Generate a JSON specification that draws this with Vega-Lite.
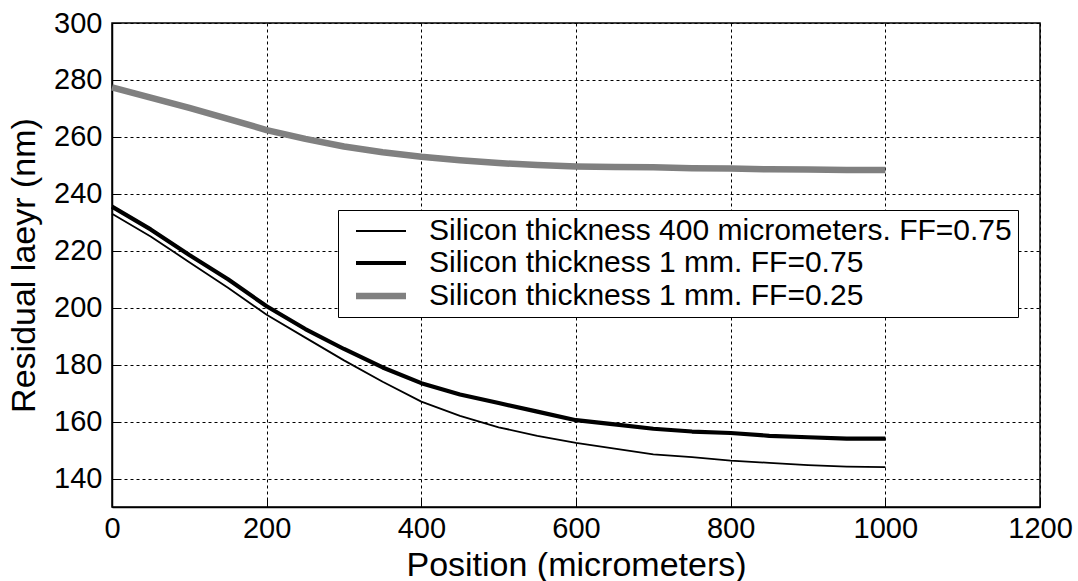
{
  "$schema": "https://vega.github.io/schema/vega-lite/v6.json",
  "width": 928,
  "height": 484,
  "autosize": "none",
  "padding": {"left": 112, "top": 23, "right": 38, "bottom": 74},
  "background": "white",
  "config": {
    "font": "Liberation Sans",
    "view": {"stroke": "black", "strokeWidth": 1.5},
    "axis": {
      "labelFont": "Liberation Sans",
      "titleFont": "Liberation Sans",
      "labelFontSize": 29,
      "titleFontSize": 34,
      "titleFontWeight": "normal",
      "labelColor": "black",
      "titleColor": "black",
      "domainColor": "black",
      "domainWidth": 1.5,
      "tickColor": "black",
      "tickSize": -8,
      "gridColor": "black",
      "gridOpacity": 1,
      "gridWidth": 1,
      "gridDash": [3, 3],
      "format": "d",
      "labelFlush": false
    }
  },
  "data": {
    "values": [
      {"x": 0, "y": 233, "s": "Silicon thickness 400 micrometers. FF=0.75"},
      {"x": 50, "y": 225, "s": "Silicon thickness 400 micrometers. FF=0.75"},
      {"x": 100, "y": 216, "s": "Silicon thickness 400 micrometers. FF=0.75"},
      {"x": 150, "y": 207, "s": "Silicon thickness 400 micrometers. FF=0.75"},
      {"x": 200, "y": 197.5, "s": "Silicon thickness 400 micrometers. FF=0.75"},
      {"x": 250, "y": 189.5, "s": "Silicon thickness 400 micrometers. FF=0.75"},
      {"x": 300, "y": 181.5, "s": "Silicon thickness 400 micrometers. FF=0.75"},
      {"x": 350, "y": 174, "s": "Silicon thickness 400 micrometers. FF=0.75"},
      {"x": 400, "y": 167, "s": "Silicon thickness 400 micrometers. FF=0.75"},
      {"x": 450, "y": 162, "s": "Silicon thickness 400 micrometers. FF=0.75"},
      {"x": 500, "y": 158, "s": "Silicon thickness 400 micrometers. FF=0.75"},
      {"x": 550, "y": 155, "s": "Silicon thickness 400 micrometers. FF=0.75"},
      {"x": 600, "y": 152.5, "s": "Silicon thickness 400 micrometers. FF=0.75"},
      {"x": 650, "y": 150.5, "s": "Silicon thickness 400 micrometers. FF=0.75"},
      {"x": 700, "y": 148.5, "s": "Silicon thickness 400 micrometers. FF=0.75"},
      {"x": 750, "y": 147.5, "s": "Silicon thickness 400 micrometers. FF=0.75"},
      {"x": 800, "y": 146.3, "s": "Silicon thickness 400 micrometers. FF=0.75"},
      {"x": 850, "y": 145.5, "s": "Silicon thickness 400 micrometers. FF=0.75"},
      {"x": 900, "y": 144.7, "s": "Silicon thickness 400 micrometers. FF=0.75"},
      {"x": 950, "y": 144.2, "s": "Silicon thickness 400 micrometers. FF=0.75"},
      {"x": 1000, "y": 144, "s": "Silicon thickness 400 micrometers. FF=0.75"},
      {"x": 0, "y": 235.5, "s": "Silicon thickness 1 mm. FF=0.75"},
      {"x": 50, "y": 227.5, "s": "Silicon thickness 1 mm. FF=0.75"},
      {"x": 100, "y": 218.5, "s": "Silicon thickness 1 mm. FF=0.75"},
      {"x": 150, "y": 210, "s": "Silicon thickness 1 mm. FF=0.75"},
      {"x": 200, "y": 200.5, "s": "Silicon thickness 1 mm. FF=0.75"},
      {"x": 250, "y": 192.5, "s": "Silicon thickness 1 mm. FF=0.75"},
      {"x": 300, "y": 185.5, "s": "Silicon thickness 1 mm. FF=0.75"},
      {"x": 350, "y": 179, "s": "Silicon thickness 1 mm. FF=0.75"},
      {"x": 400, "y": 173.5, "s": "Silicon thickness 1 mm. FF=0.75"},
      {"x": 450, "y": 169.5, "s": "Silicon thickness 1 mm. FF=0.75"},
      {"x": 500, "y": 166.5, "s": "Silicon thickness 1 mm. FF=0.75"},
      {"x": 550, "y": 163.5, "s": "Silicon thickness 1 mm. FF=0.75"},
      {"x": 600, "y": 160.5, "s": "Silicon thickness 1 mm. FF=0.75"},
      {"x": 650, "y": 159, "s": "Silicon thickness 1 mm. FF=0.75"},
      {"x": 700, "y": 157.5, "s": "Silicon thickness 1 mm. FF=0.75"},
      {"x": 750, "y": 156.5, "s": "Silicon thickness 1 mm. FF=0.75"},
      {"x": 800, "y": 156, "s": "Silicon thickness 1 mm. FF=0.75"},
      {"x": 850, "y": 155, "s": "Silicon thickness 1 mm. FF=0.75"},
      {"x": 900, "y": 154.5, "s": "Silicon thickness 1 mm. FF=0.75"},
      {"x": 950, "y": 154, "s": "Silicon thickness 1 mm. FF=0.75"},
      {"x": 1000, "y": 154, "s": "Silicon thickness 1 mm. FF=0.75"},
      {"x": 0, "y": 277.4, "s": "Silicon thickness 1 mm. FF=0.25"},
      {"x": 50, "y": 273.8, "s": "Silicon thickness 1 mm. FF=0.25"},
      {"x": 100, "y": 270.2, "s": "Silicon thickness 1 mm. FF=0.25"},
      {"x": 150, "y": 266.3, "s": "Silicon thickness 1 mm. FF=0.25"},
      {"x": 200, "y": 262.4, "s": "Silicon thickness 1 mm. FF=0.25"},
      {"x": 250, "y": 259.3, "s": "Silicon thickness 1 mm. FF=0.25"},
      {"x": 300, "y": 256.6, "s": "Silicon thickness 1 mm. FF=0.25"},
      {"x": 350, "y": 254.6, "s": "Silicon thickness 1 mm. FF=0.25"},
      {"x": 400, "y": 253.0, "s": "Silicon thickness 1 mm. FF=0.25"},
      {"x": 450, "y": 251.8, "s": "Silicon thickness 1 mm. FF=0.25"},
      {"x": 500, "y": 250.8, "s": "Silicon thickness 1 mm. FF=0.25"},
      {"x": 550, "y": 250.1, "s": "Silicon thickness 1 mm. FF=0.25"},
      {"x": 600, "y": 249.6, "s": "Silicon thickness 1 mm. FF=0.25"},
      {"x": 650, "y": 249.4, "s": "Silicon thickness 1 mm. FF=0.25"},
      {"x": 700, "y": 249.3, "s": "Silicon thickness 1 mm. FF=0.25"},
      {"x": 750, "y": 249.0, "s": "Silicon thickness 1 mm. FF=0.25"},
      {"x": 800, "y": 248.9, "s": "Silicon thickness 1 mm. FF=0.25"},
      {"x": 850, "y": 248.6, "s": "Silicon thickness 1 mm. FF=0.25"},
      {"x": 900, "y": 248.5, "s": "Silicon thickness 1 mm. FF=0.25"},
      {"x": 950, "y": 248.4, "s": "Silicon thickness 1 mm. FF=0.25"},
      {"x": 1000, "y": 248.4, "s": "Silicon thickness 1 mm. FF=0.25"}
    ]
  },
  "mark": {"type": "line", "strokeCap": "butt", "strokeJoin": "round"},
  "encoding": {
    "x": {
      "field": "x",
      "type": "quantitative",
      "scale": {"domain": [0, 1200], "nice": false},
      "axis": {"values": [0, 200, 400, 600, 800, 1000, 1200], "title": "Position (micrometers)", "labelPadding": 15, "titlePadding": 5}
    },
    "y": {
      "field": "y",
      "type": "quantitative",
      "scale": {"domain": [130, 300], "nice": false, "zero": false},
      "axis": {"values": [140, 160, 180, 200, 220, 240, 260, 280, 300], "title": "Residual laeyr (nm)", "labelPadding": 18, "titlePadding": 12}
    },
    "color": {
      "field": "s",
      "type": "ordinal",
      "scale": {
        "domain": ["Silicon thickness 400 micrometers. FF=0.75", "Silicon thickness 1 mm. FF=0.75", "Silicon thickness 1 mm. FF=0.25"],
        "range": ["#000000", "#000000", "#808080"]
      },
      "legend": {
        "title": null,
        "orient": "none",
        "legendX": 226,
        "legendY": 187,
        "fillColor": "white",
        "strokeColor": "black",
        "padding": 6,
        "labelFont": "Liberation Sans",
        "labelFontSize": 30,
        "labelColor": "black",
        "labelLimit": 1000,
        "symbolType": "M-2,0H2",
        "symbolSize": 625,
        "symbolOffset": 21,
        "labelOffset": 32,
        "rowPadding": 2
      }
    },
    "strokeWidth": {
      "field": "s",
      "type": "ordinal",
      "scale": {
        "domain": ["Silicon thickness 400 micrometers. FF=0.75", "Silicon thickness 1 mm. FF=0.75", "Silicon thickness 1 mm. FF=0.25"],
        "range": [1.8, 6.5, 6.5]
      },
      "legend": null
    }
  }
}
